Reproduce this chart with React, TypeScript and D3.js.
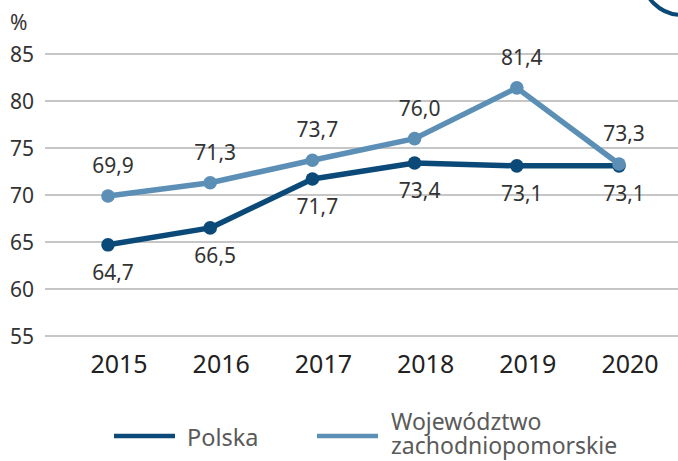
import React from "react";
import * as d3 from "d3";

const years = ["2015", "2016", "2017", "2018", "2019", "2020"];
const polska = [64.7, 66.5, 71.7, 73.4, 73.1, 73.1];
const wojewodztwo = [69.9, 71.3, 73.7, 76.0, 81.4, 73.3];
const yTicks = [55, 60, 65, 70, 75, 80, 85];
const seriesNames = ["Polska", "Województwo", "zachodniopomorskie"];

const DARK = "#0b4a78";
const LIGHT = "#5b8fb6";
const FONT = "'Noto Sans', 'Open Sans', sans-serif";

export default function App() {
  const W = 678;
  const H = 461;
  const x = d3.scalePoint<string>().domain(years).range([108, 619]);
  const y = d3.scaleLinear().domain([55, 85]).range([336, 54]);
  const line = d3
    .line<number>()
    .x((_, i) => x(years[i]) as number)
    .y((d) => y(d));
  const fmt = (v: number) => v.toFixed(1).replace(".", ",");

  return (
    <svg
      width={W}
      height={H}
      style={{ position: "absolute", left: 0, top: 0, background: "#fff" }}
      fontFamily={FONT}
    >
      <circle cx={682} cy={-25} r={40} fill="none" stroke={DARK} strokeWidth={4} />
      <text x={10} y={30} fontSize={21} fill="#333">%</text>
      {yTicks.map((t) => (
        <g key={t}>
          <line x1={45} x2={678} y1={y(t)} y2={y(t)} stroke="#b3b3b3" strokeWidth={1.5} />
          <text x={34} y={y(t) + 7.5} textAnchor="end" fontSize={21} fill="#333">
            {t}
          </text>
        </g>
      ))}
      {years.map((yr) => (
        <text
          key={yr}
          x={(x(yr) as number) + 11}
          y={373}
          textAnchor="middle"
          fontSize={25}
          fill="#222"
        >
          {yr}
        </text>
      ))}
      <path d={line(polska) || ""} fill="none" stroke={DARK} strokeWidth={5.5} strokeLinejoin="round" />
      <path d={line(wojewodztwo) || ""} fill="none" stroke={LIGHT} strokeWidth={5.5} strokeLinejoin="round" />
      {polska.map((v, i) => (
        <circle key={"p" + i} cx={x(years[i]) as number} cy={y(v)} r={6.8} fill={DARK} />
      ))}
      {wojewodztwo.map((v, i) => (
        <circle key={"w" + i} cx={x(years[i]) as number} cy={y(v)} r={6.8} fill={LIGHT} />
      ))}
      {polska.map((v, i) => (
        <text
          key={"pl" + i}
          x={(x(years[i]) as number) + 5}
          y={y(v) + 35}
          textAnchor="middle"
          fontSize={21}
          fill="#333"
        >
          {fmt(v)}
        </text>
      ))}
      {wojewodztwo.map((v, i) => (
        <text
          key={"wl" + i}
          x={(x(years[i]) as number) + 5}
          y={y(v) - 23}
          textAnchor="middle"
          fontSize={21}
          fill="#333"
        >
          {fmt(v)}
        </text>
      ))}
      <line x1={114} x2={175} y1={436} y2={436} stroke={DARK} strokeWidth={4.5} />
      <text x={187} y={446} fontSize={23.5} fill="#5a5a5a">{seriesNames[0]}</text>
      <line x1={317} x2={378} y1={436} y2={436} stroke={LIGHT} strokeWidth={4.5} />
      <text x={391} y={430} fontSize={23} fill="#5a5a5a">{seriesNames[1]}</text>
      <text x={391} y={454} fontSize={23} fill="#5a5a5a">{seriesNames[2]}</text>
    </svg>
  );
}
